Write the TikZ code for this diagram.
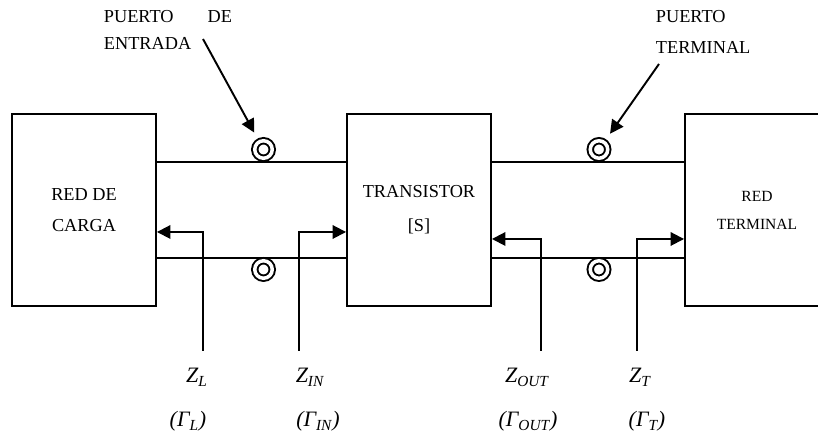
\documentclass[tikz,border=0pt]{standalone}
\usepackage{fontspec}
\setmainfont{Liberation Serif}
\usetikzlibrary{arrows.meta}

\begin{document}
\begin{tikzpicture}[line width=1.1pt, >={Triangle[length=2.7mm,width=2.7mm]},
	every node/.style={font=\fontsize{10.4}{17.6}\selectfont},
	bloque/.style={draw, minimum width=2.88cm, minimum height=3.84cm, align=center, inner sep=0pt},
	puerto/.style={circle, draw, double, double distance=0.7mm, minimum size=3.5mm, inner sep=0pt},
	rotulo/.style={anchor=north west, align=left, inner sep=0pt},
	zlabel/.style={font=\fontsize{12.5}{15}\selectfont\itshape, anchor=base}]
	\path[use as bounding box, clip] (0,0) rectangle (16.36,8.7);
	% bloques
	\node[bloque] (carga) at (1.68,4.5) {RED DE\\CARGA};
	\node[bloque, font=\fontsize{10.4}{19.3}\selectfont] (trans) at (8.38,4.5) {TRANSISTOR\\{[S]}};
	\node[bloque, font=\fontsize{8.85}{15.9}\selectfont] (term) at (15.14,4.5) {RED\\TERMINAL};
	% lineas de los puertos
	\foreach \a/\b in {carga/trans, trans/term}
		\foreach \s in {0.96,-0.96}
			\draw ([yshift=\s cm]\a.east) -- ([yshift=\s cm]\b.west);
	\node[puerto] (pe-arr) at (5.27,5.71) {};
	\node[puerto] (pe-ab) at (5.27,3.31) {};
	\node[puerto] (pt-arr) at (11.98,5.71) {};
	\node[puerto] (pt-ab) at (11.98,3.31) {};
	% rotulos de los puertos
	\node[rotulo, font=\fontsize{10.4}{15.9}\selectfont] (pe-txt) at (2.06,8.52) {PUERTO\hspace{0.68cm}DE\\ENTRADA};
	\node[rotulo, font=\fontsize{10.4}{18.1}\selectfont] (pt-txt) at (13.10,8.52) {PUERTO\\TERMINAL};
	\coordinate (pe-cola) at (4.06,7.92);
	\coordinate (pt-cola) at (13.18,7.42);
	\draw[->, shorten >=1.9mm] (pe-cola) -- (pe-arr);
	\draw[->, shorten >=1.9mm] (pt-cola) -- (pt-arr);
	% impedancias
	\node[zlabel] (zl) at (3.94,1.04) {Z\textsubscript{L}};
	\node[zlabel] (gl) at (3.76,0.16) {(Γ\textsubscript{L})};
	\node[zlabel] (zin) at (6.20,1.04) {Z\textsubscript{IN}};
	\node[zlabel] (gin) at (6.36,0.16) {(Γ\textsubscript{IN})};
	\node[zlabel] (zout) at (10.54,1.04) {Z\textsubscript{OUT}};
	\node[zlabel] (gout) at (10.56,0.16) {(Γ\textsubscript{OUT})};
	\node[zlabel] (zt) at (12.80,1.04) {Z\textsubscript{T}};
	\node[zlabel] (gt) at (12.94,0.16) {(Γ\textsubscript{T})};
	\coordinate (zl-pie) at (4.06,1.68);
	\coordinate (zin-pie) at (5.98,1.68);
	\coordinate (zout-pie) at (10.82,1.68);
	\coordinate (zt-pie) at (12.74,1.68);
	\draw[->] (zl-pie) |- ([yshift=-0.44cm]carga.east);
	\draw[->] (zin-pie) |- ([yshift=-0.44cm]trans.west);
	\draw[->] (zout-pie) |- ([yshift=-0.58cm]trans.east);
	\draw[->] (zt-pie) |- ([yshift=-0.58cm]term.west);
\end{tikzpicture}
\end{document}
